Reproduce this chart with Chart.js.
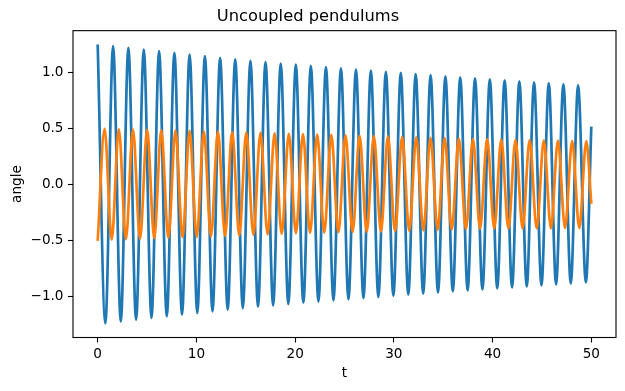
<!DOCTYPE html>
<html>
<head>
<meta charset="utf-8">
<title>Uncoupled pendulums</title>
<script src="https://cdn.jsdelivr.net/npm/chart.js@4.4.1/dist/chart.umd.min.js"></script>
<style>
    body { margin: 0; background: #fff; }
    #myChart { display: block; }
</style>
</head>
<body>
<canvas id="myChart" width="625" height="391"></canvas>
<script>
// turning points of each pendulum (t in s, angle in rad)
var blueTimes = [
    0, 0.78, 1.56, 2.34, 3.11, 3.89, 4.67, 5.45, 6.22, 7.00,
    7.77, 8.54, 9.31, 10.09, 10.86, 11.63, 12.40, 13.17, 13.93, 14.70,
    15.47, 16.24, 17.00, 17.77, 18.54, 19.31, 20.07, 20.83, 21.59, 22.36,
    23.12, 23.88, 24.64, 25.40, 26.16, 26.92, 27.67, 28.43, 29.19, 29.95,
    30.70, 31.46, 32.21, 32.97, 33.72, 34.47, 35.22, 35.97, 36.72, 37.47,
    38.22, 38.97, 39.72, 40.47, 41.22, 41.97, 42.71, 43.46, 44.20, 44.95,
    45.69, 46.43, 47.17, 47.92, 48.66, 49.45, 50.00
];
var blueAngles = [
    1.254, -1.235, 1.239, -1.220, 1.224, -1.204, 1.209, -1.188, 1.194, -1.173,
    1.179, -1.158, 1.164, -1.143, 1.149, -1.128, 1.134, -1.114, 1.120, -1.100,
    1.108, -1.087, 1.096, -1.075, 1.084, -1.063, 1.073, -1.052, 1.062, -1.041,
    1.051, -1.030, 1.040, -1.020, 1.030, -1.010, 1.020, -1.000, 1.010, -0.990,
    1.000, -0.980, 0.990, -0.970, 0.980, -0.960, 0.970, -0.951, 0.961, -0.942,
    0.952, -0.933, 0.943, -0.924, 0.934, -0.915, 0.925, -0.906, 0.916, -0.897,
    0.907, -0.888, 0.898, -0.879, 0.889, -0.870, 0.520
];
var orangeTimes = [
    0, 0.70, 1.42, 2.14, 2.86, 3.57, 4.29, 5.01, 5.73, 6.44,
    7.16, 7.88, 8.60, 9.31, 10.03, 10.75, 11.47, 12.18, 12.90, 13.62,
    14.34, 15.05, 15.77, 16.49, 17.21, 17.92, 18.64, 19.36, 20.08, 20.79,
    21.51, 22.23, 22.95, 23.66, 24.38, 25.10, 25.82, 26.53, 27.25, 27.97,
    28.69, 29.40, 30.12, 30.84, 31.56, 32.27, 32.99, 33.71, 34.43, 35.14,
    35.86, 36.58, 37.30, 38.01, 38.73, 39.45, 40.17, 40.88, 41.60, 42.32,
    43.04, 43.75, 44.47, 45.19, 45.91, 46.62, 47.34, 48.06, 48.78, 49.49,
    50.00
];
var orangeAngles = [
    -0.500, 0.500, -0.488, 0.497, -0.484, 0.494, -0.480, 0.491, -0.476, 0.488,
    -0.471, 0.485, -0.467, 0.482, -0.463, 0.479, -0.459, 0.476, -0.454, 0.472,
    -0.450, 0.468, -0.445, 0.464, -0.441, 0.460, -0.436, 0.456, -0.431, 0.453,
    -0.427, 0.449, -0.425, 0.446, -0.422, 0.442, -0.420, 0.439, -0.418, 0.436,
    -0.415, 0.433, -0.413, 0.429, -0.409, 0.425, -0.405, 0.421, -0.401, 0.417,
    -0.397, 0.414, -0.394, 0.410, -0.391, 0.408, -0.390, 0.405, -0.389, 0.403,
    -0.388, 0.400, -0.388, 0.398, -0.387, 0.396, -0.386, 0.394, -0.386, 0.392,
    -0.170
];
var xTicks = [0, 10, 20, 30, 40, 50];
var xTickLabels = ['0', '10', '20', '30', '40', '50'];
var yTicks = [-1.0, -0.5, 0.0, 0.5, 1.0];
var yTickLabels = ['\u22121.0', '\u22120.5', '0.0', '0.5', '1.0'];

function toPoints(xs, ys) {
    var pts = [];
    for (var i = 0; i < xs.length; i++) {
        pts.push({x: xs[i], y: ys[i]});
    }
    return pts;
}

function labelFor(ticks, labels) {
    return function (value) {
        for (var i = 0; i < ticks.length; i++) {
            if (Math.abs(ticks[i] - value) < 1e-9) return labels[i];
        }
        return '';
    };
}

// black box around the plot area, like matplotlib spines
var frame = {
    id: 'frame',
    afterDraw: function (chart) {
        var a = chart.chartArea;
        var c = chart.ctx;
        c.save();
        c.strokeStyle = '#000';
        c.lineWidth = 1.1;
        c.strokeRect(a.left, a.top, a.right - a.left, a.bottom - a.top);
        c.restore();
    }
};

window.onload = function () {
    Chart.defaults.font.family = "'DejaVu Sans', sans-serif";
    Chart.defaults.color = '#000';

    var ctx = document.getElementById('myChart').getContext('2d');
    var myChart = new Chart(ctx, {
        type: 'line',
        data: {
            datasets: [{
                label: 'pendulum 1',
                data: toPoints(blueTimes, blueAngles),
                borderColor: '#1f77b4',
                borderWidth: 2.7,
                pointRadius: 0,
                cubicInterpolationMode: 'monotone',
                order: 1
            },
            {
                label: 'pendulum 2',
                data: toPoints(orangeTimes, orangeAngles),
                borderColor: '#ff7f0e',
                borderWidth: 2.7,
                pointRadius: 0,
                cubicInterpolationMode: 'monotone',
                order: 0
            }]
        },
        options: {
            responsive: false,
            animation: false,
            layout: {
                padding: {left: 0, right: 9, top: 0, bottom: 0}
            },
            plugins: {
                legend: {display: false},
                tooltip: {enabled: false},
                title: {
                    display: true,
                    text: 'Uncoupled pendulums',
                    color: '#000',
                    font: {size: 16.3, weight: 'normal'},
                    padding: {top: 6.6, bottom: 4.5}
                }
            },
            scales: {
                x: {
                    type: 'linear',
                    min: -2.5,
                    max: 52.5,
                    afterBuildTicks: function (scale) {
                        scale.ticks = xTicks.map(function (v) { return {value: v}; });
                    },
                    afterFit: function (scale) { scale.height = 53.5; },
                    grid: {
                        drawOnChartArea: false,
                        drawTicks: true,
                        tickLength: 5,
                        tickColor: '#000',
                        tickWidth: 1.1
                    },
                    border: {display: false},
                    ticks: {
                        font: {size: 13.6},
                        padding: 4,
                        maxRotation: 0,
                        callback: labelFor(xTicks, xTickLabels)
                    },
                    title: {
                        display: true,
                        text: 't',
                        font: {size: 13.6},
                        padding: {top: 0, bottom: 9.5}
                    }
                },
                y: {
                    min: -1.362,
                    max: 1.377,
                    afterBuildTicks: function (scale) {
                        scale.ticks = yTicks.map(function (v) { return {value: v}; });
                    },
                    afterFit: function (scale) { scale.width = 73; },
                    grid: {
                        drawOnChartArea: false,
                        drawTicks: true,
                        tickLength: 5,
                        tickColor: '#000',
                        tickWidth: 1.1
                    },
                    border: {display: false},
                    ticks: {
                        font: {size: 13.6},
                        padding: 4.5,
                        callback: labelFor(yTicks, yTickLabels)
                    },
                    title: {
                        display: true,
                        text: 'angle',
                        font: {size: 13.6},
                        padding: {top: 9, bottom: 0}
                    }
                }
            }
        },
        plugins: [frame]
    });
};
</script>
</body>
</html>
